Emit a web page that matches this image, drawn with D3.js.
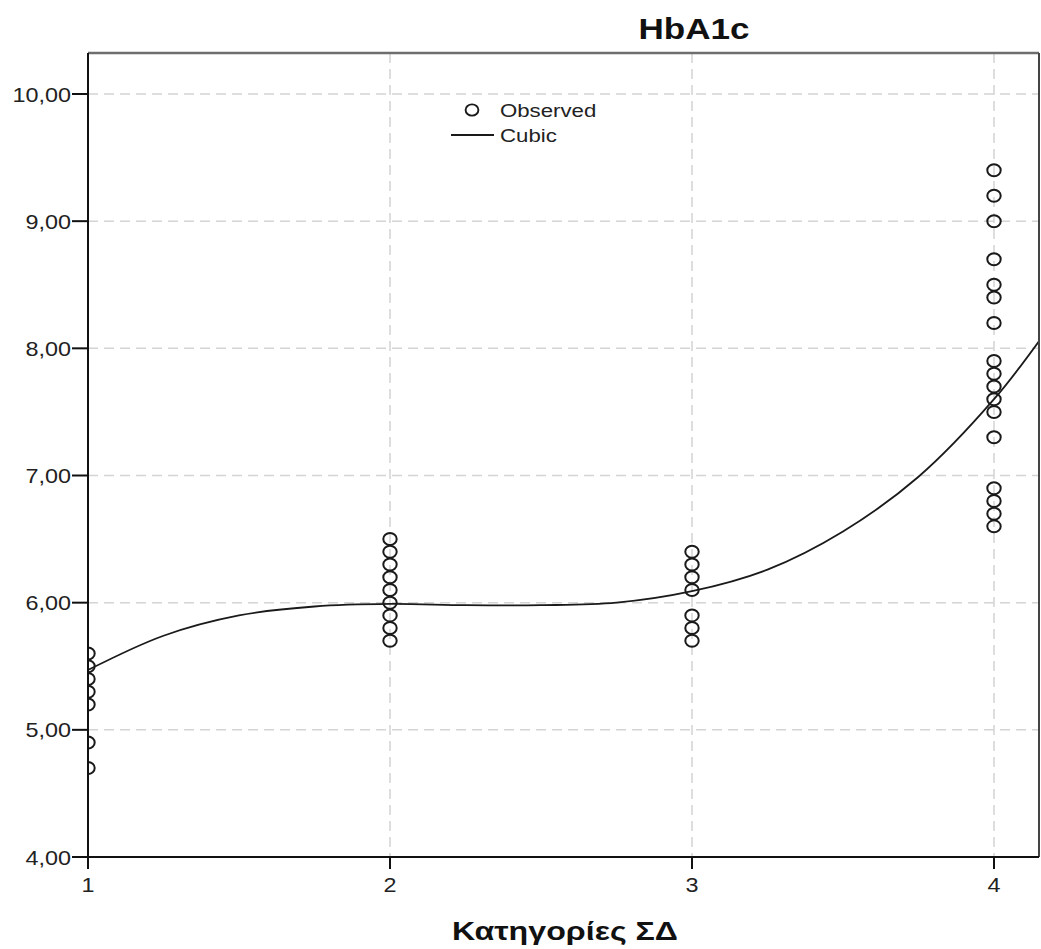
<!DOCTYPE html>
<html>
<head>
<meta charset="utf-8">
<script src="https://cdn.jsdelivr.net/npm/d3@7"></script>
<style>
  body { margin: 0; background: #fff; }
  svg { display: block; font-family: "Liberation Sans", Arial, sans-serif; }
</style>
</head>
<body>
<div id="chart"></div>
<script>
// HbA1c by diabetes category, observed values + cubic fit (SPSS-style curve estimation)

const categories = [1, 2, 3, 4];
const yTicks = [4, 5, 6, 7, 8, 9, 10];

// observed HbA1c per category
const obsCat1 = [5.6, 5.5, 5.4, 5.3, 5.2, 4.9, 4.7];
const obsCat2 = [6.5, 6.4, 6.3, 6.2, 6.1, 6.0, 5.9, 5.8, 5.7];
const obsCat3 = [6.4, 6.3, 6.2, 6.1, 5.9, 5.8, 5.7];
const obsCat4 = [9.4, 9.2, 9.0, 8.7, 8.5, 8.4, 8.2, 7.9, 7.8, 7.7, 7.6, 7.5, 7.3, 6.9, 6.8, 6.7, 6.6];

// cubic fit
const fitX = [1, 1.25, 1.5, 1.75, 2, 2.25, 2.5, 2.75, 3, 3.25, 3.5, 3.75, 4, 4.15];
const fitY = [5.47, 5.74, 5.90, 5.97, 5.99, 5.98, 5.98, 6.00, 6.09, 6.26, 6.56, 6.99, 7.60, 8.06];

const W = 1041, H = 949;
const SX = 1.17; // the reference is stretched a bit horizontally
const fmt = v => d3.format('.2f')(v).replace('.', ',');

const svg = d3.select('#chart').append('svg').attr('width', W).attr('height', H);

const x = d3.scaleLinear().domain([1, 4]).range([88, 994]);
const y = d3.scaleLinear().domain([4, 10]).range([857, 94]);
const pL = 88, pR = 1039, pT = 53, pB = 857;

svg.append('defs').append('clipPath').attr('id', 'plot')
  .append('rect').attr('x', pL).attr('y', pT).attr('width', pR - pL).attr('height', pB - pT);

// gridlines
const grid = svg.append('g').attr('stroke', '#d4d4d4').attr('stroke-width', 1.5).attr('stroke-dasharray', '10,6');
grid.selectAll('line.h').data(yTicks.slice(1)).join('line').attr('class', 'h')
  .attr('x1', pL).attr('x2', pR).attr('y1', d => y(d)).attr('y2', d => y(d));
grid.selectAll('line.v').data(categories.slice(1)).join('line').attr('class', 'v')
  .attr('x1', d => x(d)).attr('x2', d => x(d)).attr('y1', pT).attr('y2', pB);

const plot = svg.append('g').attr('clip-path', 'url(#plot)');

// observed points
const obs = [obsCat1, obsCat2, obsCat3, obsCat4]
  .flatMap((vals, i) => vals.map(v => ({ cat: categories[i], v })));
plot.selectAll('ellipse.obs').data(obs).join('ellipse').attr('class', 'obs')
  .attr('cx', d => x(d.cat)).attr('cy', d => y(d.v))
  .attr('rx', 6.7).attr('ry', 6.0)
  .attr('fill', 'none').attr('stroke', '#1a1a1a').attr('stroke-width', 2);

// cubic curve
plot.append('path')
  .datum(fitX.map((d, i) => [d, fitY[i]]))
  .attr('d', d3.line().x(d => x(d[0])).y(d => y(d[1])).curve(d3.curveCatmullRom))
  .attr('fill', 'none').attr('stroke', '#1a1a1a').attr('stroke-width', 1.8);

// frame
svg.append('line').attr('x1', pL).attr('x2', pR).attr('y1', pT).attr('y2', pT)
  .attr('stroke', '#6e6e6e').attr('stroke-width', 2.5);
svg.append('line').attr('x1', pR).attr('x2', pR).attr('y1', pT).attr('y2', pB)
  .attr('stroke', '#444').attr('stroke-width', 2);

// y axis
svg.append('line').attr('x1', pL).attr('x2', pL).attr('y1', pT).attr('y2', pB + 1)
  .attr('stroke', '#111').attr('stroke-width', 2);
const yAx = svg.append('g');
yAx.selectAll('line').data(yTicks).join('line')
  .attr('x1', pL - 16).attr('x2', pL).attr('y1', d => y(d)).attr('y2', d => y(d))
  .attr('stroke', '#111').attr('stroke-width', 2);
yAx.selectAll('text').data(yTicks).join('text')
  .attr('transform', d => `translate(${pL - 17},${y(d) + 7.5}) scale(${SX},1)`)
  .attr('text-anchor', 'end').attr('font-size', 20).attr('fill', '#222')
  .text(fmt);

// x axis
svg.append('line').attr('x1', pL - 1).attr('x2', pR).attr('y1', pB).attr('y2', pB)
  .attr('stroke', '#111').attr('stroke-width', 2);
const xAx = svg.append('g');
xAx.selectAll('line').data(categories).join('line')
  .attr('x1', d => x(d)).attr('x2', d => x(d)).attr('y1', pB).attr('y2', pB + 12)
  .attr('stroke', '#111').attr('stroke-width', 2);
xAx.selectAll('text').data(categories).join('text')
  .attr('transform', d => `translate(${x(d)},${pB + 35}) scale(${SX},1)`)
  .attr('text-anchor', 'middle').attr('font-size', 20).attr('fill', '#222')
  .text(d => d);

// titles
svg.append('text')
  .attr('transform', `translate(694,39) scale(${SX},1)`)
  .attr('text-anchor', 'middle').attr('font-size', 30).attr('font-weight', 'bold').attr('fill', '#111')
  .text('HbA1c');
svg.append('text')
  .attr('x', 452).attr('y', 940)
  .attr('font-size', 25).attr('font-weight', 'bold').attr('fill', '#111')
  .attr('textLength', 226).attr('lengthAdjust', 'spacingAndGlyphs')
  .text('Κατηγορίες ΣΔ');

// legend
const leg = svg.append('g');
leg.append('ellipse').attr('cx', 472).attr('cy', 110).attr('rx', 6.4).attr('ry', 5.6)
  .attr('fill', 'none').attr('stroke', '#1a1a1a').attr('stroke-width', 1.9);
leg.append('line').attr('x1', 451).attr('x2', 494).attr('y1', 135).attr('y2', 135)
  .attr('stroke', '#1a1a1a').attr('stroke-width', 1.8);
leg.append('text').attr('transform', `translate(500,117) scale(${SX},1)`)
  .attr('font-size', 19).attr('fill', '#222').text('Observed');
leg.append('text').attr('transform', `translate(500,142) scale(${SX},1)`)
  .attr('font-size', 19).attr('fill', '#222').text('Cubic');
</script>
</body>
</html>
